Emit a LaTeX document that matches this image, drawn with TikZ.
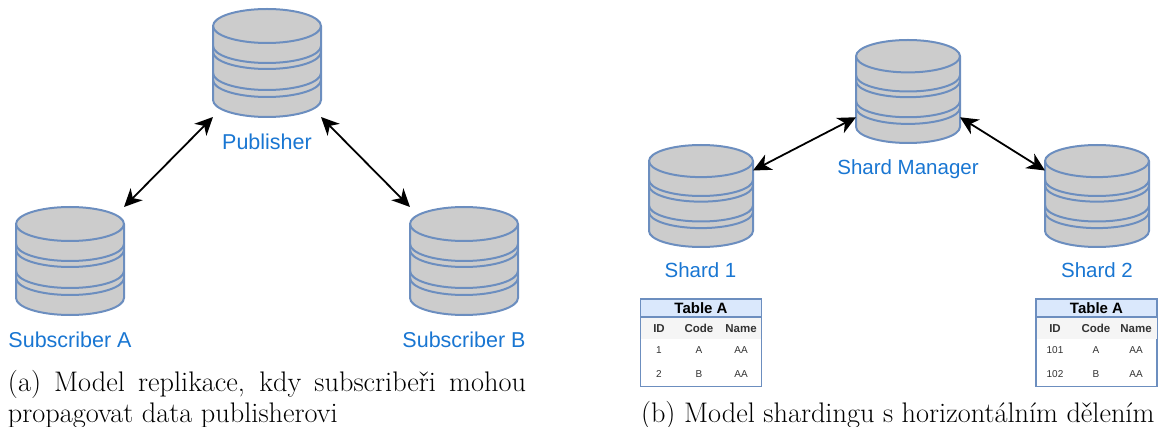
\documentclass[tikz,border=0pt]{standalone}
\usepackage{fontspec}
\setsansfont{Liberation Sans}
\usetikzlibrary{arrows.meta,calc}
\definecolor{dbfill}{HTML}{CCCCCC}
\definecolor{dbline}{HTML}{6C8EBF}
\definecolor{lbl}{HTML}{1976D2}
\definecolor{hdr}{HTML}{DAE8FC}
\definecolor{rowbg}{HTML}{F5F5F5}
\definecolor{celltxt}{HTML}{333333}
\tikzset{
  dbstroke/.style={draw=dbline,line width=2pt,fill=dbfill},
  dbarc/.style={draw=dbline,line width=2pt},
  lab/.style={font=\sffamily\fontsize{21.5}{24}\selectfont,text=lbl,inner sep=0pt,anchor=base},
  labsm/.style={font=\sffamily\fontsize{20.5}{24}\selectfont,text=lbl,inner sep=0pt,anchor=base},
  link/.style={draw=black,line width=1.8pt,{Stealth[length=18pt,width=17pt,inset=5.5pt]}-{Stealth[length=18pt,width=17pt,inset=5.5pt]}},
  tframe/.style={draw=dbline,line width=1.2pt,fill=white,inner sep=0pt,outer sep=0pt},
  thead/.style={draw=dbline,line width=1.2pt,fill=hdr,inner sep=0pt,outer sep=0pt},
  tband/.style={fill=rowbg,inner sep=0pt,outer sep=0pt},
  ttitle/.style={font=\sffamily\bfseries\fontsize{15}{16}\selectfont,text=black,inner sep=0pt,anchor=base},
  tcol/.style={font=\sffamily\bfseries\fontsize{11.5}{13}\selectfont,text=celltxt,inner sep=0pt,anchor=base},
  tcell/.style={font=\sffamily\fontsize{10}{12}\selectfont,text=celltxt,inner sep=0pt,anchor=base},
  captxt/.style={font=\fontsize{28.3}{31}\selectfont,inner sep=0pt,outer sep=0pt,text=black},
}
% name, left, top, width, height
\newcommand{\dbsym}[5]{%
  \node[inner sep=0pt,outer sep=0pt,minimum width=#4pt,minimum height=#5pt] (#1) at ({#2+#4/2},{#3+#5/2}) {};
  \begin{scope}[shift={(#2,#3)},x={(#4/108*1pt,0)},y={(0,-#5/108*1pt)}]
    \path[dbstroke] (0,17) -- (0,91) arc[start angle=180,end angle=360,x radius=54,y radius=-17] -- (108,17)
      arc[start angle=0,end angle=180,x radius=54,y radius=-17] -- cycle;
    \foreach \yy in {17,37,43,64,71}
      \path[dbarc] (0,\yy) arc[start angle=180,end angle=360,x radius=54,y radius=-17];
  \end{scope}
}
% prefix, left, c1, c2, c3, id1, id2
\newcommand{\minitable}[7]{%
  \node[tframe,minimum width=121pt,minimum height=87.5pt] (#1f) at ({#2+60.5},342.5) {};
  \node[tband,minimum width=120pt,minimum height=22.5pt] (#1b) at ({#2+60.5},328) {};
  \node[thead,minimum width=121pt,minimum height=18pt] (#1h) at ({#2+60.5},308) {};
  \node[ttitle] (#1t) at ({#2+60.5},313) {Table A};
  \node[tcol] (#1c1) at (#3,332) {ID};
  \node[tcol] (#1c2) at (#4,332) {Code};
  \node[tcol] (#1c3) at (#5,332) {Name};
  \node[tcell] (#1a1) at (#3,353) {#6};
  \node[tcell] (#1a2) at (#4,353) {A};
  \node[tcell] (#1a3) at (#5,353) {AA};
  \node[tcell] (#1b1) at (#3,377) {#7};
  \node[tcell] (#1b2) at (#4,377) {B};
  \node[tcell] (#1b3) at (#5,377) {AA};
}
\begin{document}
\begin{tikzpicture}[x=1pt,y=-1pt]
\useasboundingbox (0,0) rectangle (1158,427);
\dbsym{pub}{213}{9}{108}{108}
\dbsym{suba}{16}{207}{108}{108}
\dbsym{subb}{410}{207}{108}{108}
\dbsym{mgr}{856}{40}{104}{103}
\dbsym{sha}{649}{145}{104}{102}
\dbsym{shb}{1045}{145}{104}{102}
\node[lab] (lpub) at (267,149.5) {Publisher};
\node[lab] (lsuba) at (70,347) {Subscriber A};
\node[lab] (lsubb) at (464,347) {Subscriber B};
\node[labsm] (lmgr) at (908,174.5) {Shard Manager};
\node[labsm] (lsha) at (700.5,278) {Shard 1};
\node[labsm] (lshb) at (1097,278) {Shard 2};
\draw[link] (pub.south west) -- (suba.north east);
\draw[link] (pub.south east) -- (subb.north west);
\draw[link] ($(mgr.north west)!0.75!(mgr.south west)$) -- ($(sha.north east)!0.25!(sha.south east)$);
\draw[link] ($(mgr.north east)!0.75!(mgr.south east)$) -- ($(shb.north west)!0.25!(shb.south west)$);
\minitable{ta}{640.5}{659}{699}{741}{1}{2}
\minitable{tb}{1036}{1055}{1096}{1136}{101}{102}
\node[captxt,anchor=north west,text width=518pt,align=justify] (capa) at (8,370) {(a) Model replikace, kdy subscribeři mohou propagovat data publisherovi};
\node[captxt,anchor=north west] (capb) at (641,401) {(b) Model shardingu s horizontálním dělením};
\end{tikzpicture}
\end{document}
